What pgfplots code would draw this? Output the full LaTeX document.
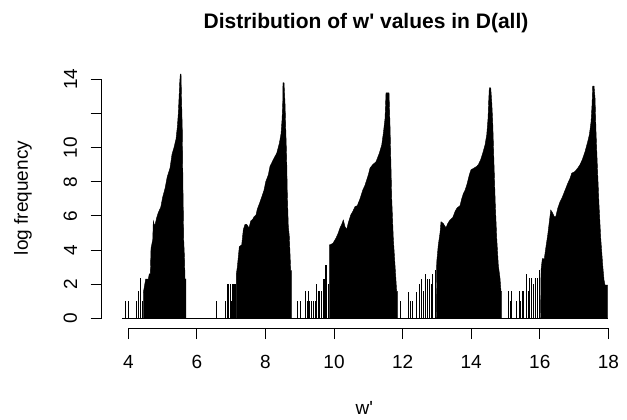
\documentclass[border=0pt]{standalone}
\usepackage{fontspec}
\setmainfont{Liberation Sans}
\usepackage{pgfplots}
\pgfplotsset{compat=1.18}
\begin{document}
\begin{tikzpicture}[x=1pt,y=1pt]
\useasboundingbox (0,0) rectangle (627,420);
\begin{axis}[
  scale only axis, width=525.3pt, height=264pt,
  at={(101.7pt,91.9pt)}, anchor=south west,
  xmin=3.224, xmax=18.543, ymin=-0.574, ymax=14.89,
  axis lines*=left, axis line style={draw=none},
  clip=false,
  xtick={4,6,...,18}, ytick={0,2,...,14},
  yticklabels={0,2,4,6,8,10,{},14},
  tick align=outside, major tick length=11pt,
  tick style={black, line width=0.9pt},
  /pgf/number format/assume math mode=true,
  ticklabel style={font=\fontsize{19}{22}\selectfont},
  yticklabel style={rotate=90, anchor=south, yshift=10pt},
  xticklabel style={anchor=north, yshift=-13pt},
]
% axis lines (R style, spanning the tick range only)
\draw[line width=0.9pt] (axis cs:4,-0.574) -- (axis cs:18,-0.574);
\draw[line width=0.9pt] (axis cs:3.224,0) -- (axis cs:3.224,14);
% baseline
\addplot[black, line width=0.9pt] coordinates {(3.81,0) (17.98,0)};
% isolated spikes
\addplot[ycomb, black, line width=1pt, mark=none] coordinates {
(3.904,1.0) (3.991,1.0) (4.225,1.0) (4.292,1.6) (4.350,2.34) (4.408,1.0)
(6.578,1.0) (6.820,1.0)
(6.899,2.0) (6.922,2.0) (6.966,2.0) (6.99,2.0) (7.02,1.0) (7.045,2.0) (7.07,2.0) (7.10,2.0) (7.13,2.0)
(8.934,1.0) (9.007,1.0) (9.168,1.6) (9.211,1.0) (9.249,1.6) (9.284,1.0) (9.328,1.0) (9.401,1.0) (9.445,1.0) (9.494,2.0) (9.547,1.6) (9.590,1.6) (9.640,1.6) (9.687,2.3) (9.716,2.3) (9.757,3.1) (9.786,3.1) (9.824,2.0)
(11.924,1.0) (12.157,1.56) (12.230,1.0) (12.273,1.0) (12.405,1.56) (12.478,2.0) (12.551,2.3) (12.594,1.6) (12.653,2.6) (12.711,2.3) (12.769,2.3) (12.828,2.0) (12.871,2.6) (12.944,2.8)
(15.088,1.6) (15.132,1.0) (15.175,1.6) (15.327,1.0) (15.394,1.6) (15.438,1.0) (15.481,1.6) (15.519,1.6) (15.613,2.6) (15.656,1.6) (15.700,2.34) (15.758,2.34) (15.802,2.0) (15.861,2.34) (15.919,2.34) (15.986,2.83)
};
% cluster 1
\addplot[fill=black, draw=black, line width=0.4pt] coordinates {
(4.437,0) (4.437,1.5) (4.507,2.3) (4.583,2.3) (4.612,2.6) (4.642,2.6) (4.662,4.1) (4.712,4.6) (4.729,5.7) (4.770,5.4) (4.828,5.9) (4.875,6.2) (4.945,6.5) (5.003,7.1) (5.070,7.6) (5.137,8.3) (5.216,8.8) (5.274,9.6) (5.332,10.0) (5.391,10.5) (5.429,11.2) (5.458,12.0) (5.479,12.9) (5.499,13.8) (5.516,14.3) (5.537,14.3) (5.551,13.0) (5.575,11.0) (5.595,7.5) (5.616,4.6) (5.639,3.5) (5.654,2.3) (5.677,2.3) (5.677,0)
} \closedcycle;
% cluster 2
\addplot[fill=black, draw=black, line width=0.4pt] coordinates {
(7.15,0) (7.15,2.6) (7.179,3.0) (7.237,4.2) (7.307,4.3) (7.354,5.2) (7.403,5.5) (7.453,5.5) (7.520,5.3) (7.570,5.7) (7.628,5.8) (7.666,5.95) (7.724,6.05) (7.762,6.4) (7.820,6.7) (7.890,7.1) (7.957,7.5) (8.007,8.0) (8.083,8.4) (8.132,8.9) (8.229,9.3) (8.328,9.67) (8.404,10.25) (8.453,10.8) (8.482,11.6) (8.503,12.6) (8.511,13.8) (8.541,13.8) (8.570,12.6) (8.590,11.2) (8.619,9.3) (8.637,7.3) (8.666,5.4) (8.695,4.8) (8.736,2.8) (8.754,2.8) (8.754,0)
} \closedcycle;
% cluster 3
\addplot[fill=black, draw=black, line width=0.4pt] coordinates {
(9.86,0) (9.86,4.3) (9.882,4.3) (9.970,4.4) (10.057,4.7) (10.124,5.0) (10.174,5.3) (10.223,5.5) (10.270,5.76) (10.320,5.37) (10.369,5.2) (10.416,5.6) (10.486,6.05) (10.544,6.25) (10.611,6.54) (10.678,6.6) (10.757,7.0) (10.836,7.5) (10.903,7.8) (10.999,8.4) (11.049,8.8) (11.127,9.0) (11.224,9.17) (11.320,9.67) (11.390,10.15) (11.437,10.84) (11.486,11.7) (11.515,13.2) (11.603,13.2) (11.632,11.3) (11.682,7.0) (11.728,4.7) (11.778,3.1) (11.827,1.56) (11.856,1.56) (11.856,0)
} \closedcycle;
% cluster 4
\addplot[fill=black, draw=black, line width=0.4pt] coordinates {
(12.98,0) (12.994,3.3) (13.040,4.3) (13.090,5.0) (13.119,5.66) (13.186,5.55) (13.265,5.3) (13.315,5.55) (13.382,5.76) (13.461,5.9) (13.528,6.25) (13.577,6.44) (13.673,6.6) (13.723,7.0) (13.770,7.3) (13.819,7.5) (13.869,7.8) (13.945,8.4) (13.994,8.7) (14.082,8.8) (14.160,8.9) (14.207,9.0) (14.277,9.3) (14.335,9.67) (14.402,10.15) (14.452,10.74) (14.490,11.7) (14.509,12.7) (14.528,13.5) (14.569,13.5) (14.598,12.7) (14.627,11.5) (14.665,9.0) (14.703,6.64) (14.744,4.7) (14.791,3.1) (14.840,2.34) (14.869,1.56) (14.889,1.56) (14.889,0)
} \closedcycle;
% cluster 5
\addplot[fill=black, draw=black, line width=0.4pt] coordinates {
(16.02,0) (16.036,2.83) (16.074,3.5) (16.132,3.5) (16.173,4.1) (16.231,4.88) (16.278,5.66) (16.319,6.34) (16.365,6.2) (16.424,5.95) (16.465,5.95) (16.523,6.44) (16.590,6.83) (16.657,7.1) (16.736,7.5) (16.814,7.9) (16.882,8.2) (16.931,8.5) (17.027,8.6) (17.106,8.8) (17.173,9.0) (17.240,9.3) (17.319,9.76) (17.397,10.35) (17.444,10.74) (17.494,11.5) (17.523,12.5) (17.543,13.6) (17.582,13.6) (17.611,12.9) (17.640,10.9) (17.677,9.0) (17.727,6.64) (17.777,4.7) (17.835,3.1) (17.873,2.24) (17.902,1.95) (17.981,1.95) (17.981,0)
} \closedcycle;
\end{axis}
\node[font=\fontsize{21}{25}\selectfont\bfseries] at (366,397) {Distribution of w\textquotesingle{} values in D(all)};
\node[font=\fontsize{19}{22}\selectfont] at (364.4,12) {w\textquotesingle};
\node[rotate=90, font=\fontsize{19}{22}\selectfont] at (23,222) {log frequency};
\end{tikzpicture}
\end{document}
